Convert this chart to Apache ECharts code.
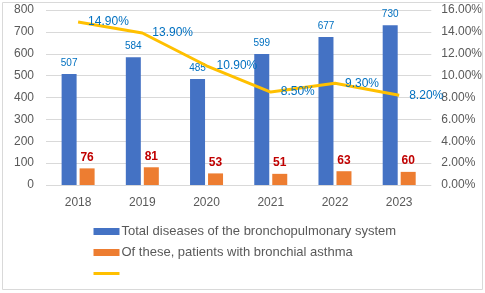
<!DOCTYPE html>
<html><head><meta charset="utf-8">
<script src="https://cdn.jsdelivr.net/npm/echarts@6/dist/echarts.min.js"></script>
<style>html,body{margin:0;padding:0;background:#fff}#c{width:485px;height:293px}</style>
</head><body><div id="c"></div>
<script>
const categories = ['2018','2019','2020','2021','2022','2023'];
const totalDiseases = [507, 584, 485, 599, 677, 730];
const asthmaPatients = [76, 81, 53, 51, 63, 60];
const asthmaShare = [14.9, 13.9, 10.9, 8.5, 9.3, 8.2];
const leftTicks = [0, 800, 100];
const rightTicks = [0, 16, 2];
const seriesNames = ['Total diseases of the bronchopulmonary system', 'Of these, patients with bronchial asthma', ' '];

const chart = echarts.init(document.getElementById('c'));
const font = 'Liberation Sans, Arial, sans-serif';
chart.setOption({
  animation: false,
  textStyle: {fontFamily: font},
  graphic: [{type:'rect', shape:{x:2.5,y:2.5,width:480,height:287}, style:{fill:'none', stroke:'#d9d9d9', lineWidth:1}}],
  grid: {left: 46, right: 53, top: 10, bottom: 108},
  legend: {
    orient: 'vertical', left: 87, top: 220, height: 80, itemWidth: 26, itemHeight: 7, itemGap: 8,
    textStyle: {fontSize: 13, color: '#595959', fontFamily: font, padding: [0, 0, 0, -3]},
    data: [{name: seriesNames[0], icon: 'rect'}, {name: seriesNames[1], icon: 'rect'},
      {name: seriesNames[2], itemStyle: {opacity: 0}, lineStyle: {width: 3, color: '#FFC000'}}]
  },
  xAxis: {
    type: 'category', data: categories,
    axisLine: {show: false}, axisTick: {show: false},
    axisLabel: {color: '#595959', fontSize: 12, margin: 12}
  },
  yAxis: [{
    type: 'value', min: leftTicks[0], max: leftTicks[1], interval: leftTicks[2],
    axisLabel: {color: '#595959', fontSize: 12, margin: 12},
    splitLine: {lineStyle: {color: '#d9d9d9'}}
  }, {
    type: 'value', min: rightTicks[0], max: rightTicks[1], interval: rightTicks[2],
    axisLabel: {color: '#595959', fontSize: 12, margin: 10, formatter: v => v.toFixed(2) + '%'},
    splitLine: {show: false}
  }],
  series: [{
    name: seriesNames[0], type: 'bar', data: totalDiseases, barWidth: 15, barGap: '20%',
    itemStyle: {color: '#4472C4'},
    label: {show: true, position: 'top', distance: 6, color: '#0070C0', fontSize: 10}
  }, {
    name: seriesNames[1], type: 'bar', data: asthmaPatients, barWidth: 15, barGap: '20%',
    itemStyle: {color: '#ED7D31'},
    label: {show: true, position: 'top', distance: 5, color: '#C00000', fontSize: 12, fontWeight: 'bold'}
  }, {
    name: seriesNames[2], type: 'line', yAxisIndex: 1, data: asthmaShare,
    symbol: 'circle', symbolSize: 0.01, showSymbol: true,
    lineStyle: {color: '#FFC000', width: 3}, itemStyle: {color: '#FFC000'},
    label: {show: true, position: 'right', distance: 10, color: '#0070C0', fontSize: 12,
      formatter: p => p.value.toFixed(2) + '%'}
  }]
});
</script></body></html>
